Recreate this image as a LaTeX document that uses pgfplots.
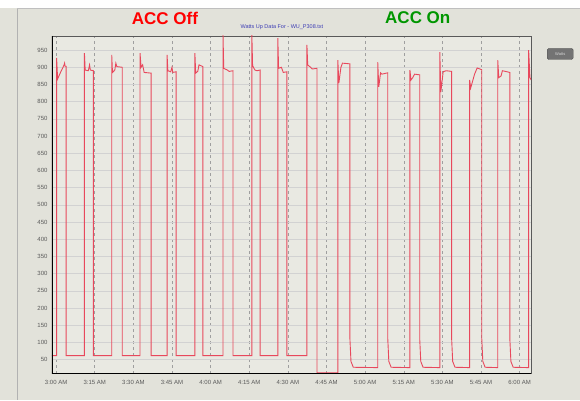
\documentclass[border=0pt]{standalone}
\usepackage{pgfplots}
\pgfplotsset{compat=1.18}
\usepackage{fontspec}
\setmainfont{Liberation Sans}
\definecolor{bgc}{RGB}{226,226,218}
\definecolor{plotbg}{RGB}{233,233,226}
\definecolor{trace}{RGB}{232,72,92}
\definecolor{accgreen}{RGB}{0,150,0}
\definecolor{titleblue}{RGB}{60,60,180}
\definecolor{ticktext}{RGB}{90,90,90}
\begin{document}
\begin{tikzpicture}[x=1pt,y=1pt]
\fill[bgc] (0,0) rectangle (580,400);
\fill[white] (0,392) rectangle (580,400);
\draw[gray!60,line width=0.6pt] (17,0) -- (17,392);
\draw[gray!50,line width=0.6pt] (17,392) -- (580,392);
\node[font=\bfseries\fontsize{17}{19}\selectfont,text=red] at (165,382) {ACC Off};
\node[font=\bfseries\fontsize{17}{19}\selectfont,text=accgreen] at (418,382) {ACC On};
\node[font=\fontsize{5.5}{6}\selectfont,text=titleblue] at (282,372.5) {Watts Up Data For - WU\_P308.txt};
\node[draw=black!70,fill=black!55,rounded corners=1.5pt,minimum width=26pt,minimum height=11pt,inner sep=0pt,font=\fontsize{4}{5}\selectfont,text=gray!30] at (560.5,346) {Watts};
\begin{axis}[
  at={(52pt,26pt)}, anchor=south west,
  scale only axis, width=479.5pt, height=338pt,
  xmin=-1.6, xmax=184.5, ymin=9, ymax=991,
  axis background/.style={fill=plotbg},
  axis line style={black!65,line width=0.8pt},
  xtick={0,15,...,180},
  xticklabels={3:00 AM,3:15 AM,3:30 AM,3:45 AM,4:00 AM,4:15 AM,4:30 AM,4:45 AM,5:00 AM,5:15 AM,5:30 AM,5:45 AM,6:00 AM},
  ytick={50,100,...,950},
  major tick length=0pt,
  xmajorgrids, ymajorgrids,
  x grid style={gray!75,dashed,line width=0.5pt},
  y grid style={gray!35,line width=0.5pt},
  tick label style={font=\fontsize{6}{7}\selectfont,text=ticktext},
  xticklabel style={yshift=-3pt},
  yticklabel style={xshift=-1pt},
  /pgf/number format/assume math mode=true,
  clip=true,
]
\addplot[trace,line width=0.9pt] coordinates {
(-1.6,62)
(0.2,62)(0.2,927)(0.6,866)(1.4,880)(3.0,905)(3.3,912)(3.5,903)(3.9,903)(3.9,62)
(11.0,62)(11.0,941)(11.3,892)(12.5,890)(13.0,907)(13.3,892)(14.5,890)(14.5,62)
(21.6,62)(21.6,936)(21.9,885)(22.8,892)(23.2,912)(23.6,902)(25.7,900)(25.7,62)
(32.6,62)(32.6,941)(33.0,900)(33.6,907)(34.2,885)(36.9,883)(36.9,62)
(43.1,62)(43.1,936)(43.4,890)(44.5,887)(45.0,900)(45.3,885)(46.6,887)(46.6,62)
(53.9,62)(53.9,941)(54.2,883)(55.0,888)(55.5,907)(57.0,902)(57.0,62)
(64.8,62)(64.8,1000)(65.1,897)(66.5,892)(67.2,888)(68.7,890)(68.7,62)
(76.0,62)(76.0,1000)(76.3,905)(77.2,892)(78.0,890)(79.2,892)(79.2,62)
(86.1,62)(86.1,985)(86.4,897)(87.5,900)(88.2,885)(89.6,887)(89.6,62)
(97.4,62)(97.4,965)(97.7,907)(98.8,900)(99.5,895)(101.3,897)(101.3,12)
(109.4,12)(109.4,921)(109.8,854)(110.6,900)(111.2,912)(114.1,910)(114.1,110)(114.5,45)(115.4,28)
(124.9,27)(124.9,915)(125.3,843)(126.0,884)(126.5,880)(128.8,884)(128.8,110)(129.2,45)(130.1,28)
(137.4,27)(137.4,892)(137.8,863)(138.5,870)(139.2,880)(141.2,878)(141.2,110)(141.6,45)(142.5,28)
(149.0,27)(149.0,944)(149.4,828)(150.3,887)(151.5,890)(153.6,888)(153.6,110)(154.0,45)(154.9,28)
(160.6,27)(160.6,863)(161.0,840)(162.5,880)(163.5,898)(165.3,893)(165.3,110)(165.7,45)(166.6,28)
(171.5,27)(171.5,921)(171.9,870)(172.8,875)(173.3,890)(176.2,885)(176.2,110)(176.6,45)(177.5,28)
(183.5,27)(183.5,950)(184.0,870)(184.5,863)
};
\draw[black,line width=1.6pt] (rel axis cs:0,1) -- (rel axis cs:0,0) -- (rel axis cs:1,0);
\end{axis}
\end{tikzpicture}
\end{document}
